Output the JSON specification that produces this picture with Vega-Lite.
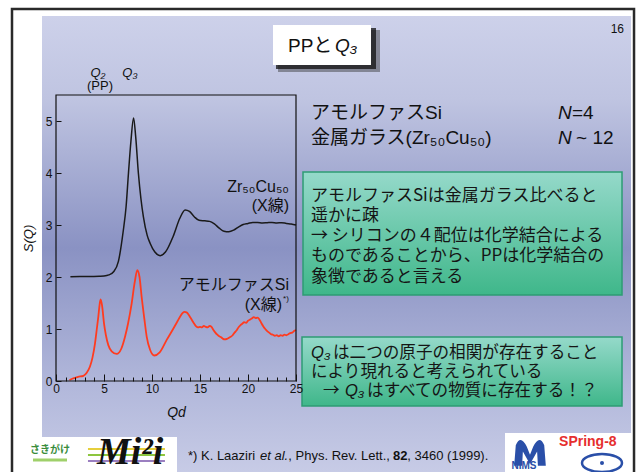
{
  "$schema": "https://vega.github.io/schema/vega-lite/v6.json",
  "width": 240,
  "height": 286,
  "autosize": {"type": "none"},
  "padding": {"left": 56, "top": 95, "right": 344, "bottom": 91},
  "background": "white",
  "config": {"view": {"stroke": null}},
  "encoding": {
    "x": {"field": "x", "type": "quantitative",
      "scale": {"domain": [0, 25], "nice": false, "zero": false},
      "axis": {"title": "Qd", "titleFont": "Liberation Sans", "titleFontStyle": "italic", "titleFontWeight": "normal", "titleFontSize": 14, "titleColor": "#111", "titlePadding": 8,
        "values": [0,1,2,3,4,5,6,7,8,9,10,11,12,13,14,15,16,17,18,19,20,21,22,23,24,25],
        "labelExpr": "datum.value % 5 === 0 ? datum.label : ''",
        "labelFont": "Liberation Sans", "labelFontSize": 12, "labelColor": "#111", "labelFlush": false, "labelOverlap": false,
        "tickSize": {"condition": {"test": "datum.value % 5 === 0", "value": -7}, "value": -4},
        "labelPadding": 9, "tickColor": "#111", "tickWidth": 1, "domain": false, "grid": false, "zindex": 1}},
    "y": {"field": "y", "type": "quantitative",
      "scale": {"domain": [0, 5.5], "nice": false, "zero": false},
      "axis": {"title": "S(Q)", "titleFont": "Liberation Sans", "titleFontStyle": "italic", "titleFontWeight": "normal", "titleFontSize": 13, "titleColor": "#111", "titlePadding": 10,
        "values": [0,1,2,3,4,5], "labelFont": "Liberation Sans", "labelFontSize": 12, "labelColor": "#111",
        "tickSize": -5, "labelPadding": 9, "tickColor": "#111", "domain": false, "grid": false, "zindex": 1}}
  },
  "layer": [
    {"data": {"values": [{"x": -1.458, "x2": 59.9, "y": 7.019, "y2": -1.904}]},
     "mark": {"type": "rect", "fill": {"gradient": "linear", "x1": 0, "y1": 0, "x2": 0, "y2": 1,
       "stops": [{"offset": 0, "color": "#cdd1ea"}, {"offset": 0.18, "color": "#bfc4e1"}, {"offset": 0.5, "color": "#8a92c3"}, {"offset": 0.8, "color": "#b2b8db"}, {"offset": 1, "color": "#c9cde7"}]}},
     "encoding": {"x2": {"field": "x2"}, "y2": {"field": "y2"}}},
    {"data": {"values": [{"x": -4.583, "x2": 12.604, "y": -1.077, "y2": -1.904}, {"x": 46.77, "x2": 60.0, "y": -1.0, "y2": -1.904}]},
     "mark": {"type": "rect", "fill": "white"},
     "encoding": {"x2": {"field": "x2"}, "y2": {"field": "y2"}}},
    {"data": {"values": [{"x": -4.583, "x2": 60.21, "y": 7.154, "y2": -1.904}]},
     "mark": {"type": "rect", "fill": "transparent", "stroke": "#2a2a2a", "strokeWidth": 2.5},
     "encoding": {"x2": {"field": "x2"}, "y2": {"field": "y2"}}},
    {"data": {"values": [{"x": 23.125, "x2": 33.75, "y": 6.75, "y2": 5.942}]},
     "mark": {"type": "rect", "fill": "#333", "opacity": 0.45},
     "encoding": {"x2": {"field": "x2"}, "y2": {"field": "y2"}}},
    {"data": {"values": [{"x": 22.917, "x2": 33.333, "y": 6.788, "y2": 6.0}]},
     "mark": {"type": "rect", "fill": "#111", "opacity": 0.75},
     "encoding": {"x2": {"field": "x2"}, "y2": {"field": "y2"}}},
    {"data": {"values": [{"x": 22.604, "x2": 32.813, "y": 6.846, "y2": 6.077}]},
     "mark": {"type": "rect", "fill": "white"},
     "encoding": {"x2": {"field": "x2"}, "y2": {"field": "y2"}}},
    {"data": {"values": [{"x": 25.73, "x2": 58.96, "y": 4.019, "y2": 1.654}, {"x": 25.625, "x2": 58.96, "y": 0.846, "y2": -0.481}]},
     "mark": {"type": "rect", "stroke": "#2e9c74", "strokeWidth": 1.5, "fill": {"gradient": "linear", "x1": 0, "y1": 0, "x2": 0, "y2": 1,
       "stops": [{"offset": 0, "color": "#95d9ca"}, {"offset": 1, "color": "#3fb78a"}]}},
     "encoding": {"x2": {"field": "x2"}, "y2": {"field": "y2"}}},
    {"data": {"values": [{"x": 3.33, "x2": 11.35, "y": -1.308}]},
     "mark": {"type": "rule", "color": "#e6cf3c", "strokeWidth": 2},
     "encoding": {"x2": {"field": "x2"}}},
    {"data": {"values": [{"x": 3.33, "x2": 11.35, "y": -1.423}]},
     "mark": {"type": "rule", "color": "#8dc63f", "strokeWidth": 2},
     "encoding": {"x2": {"field": "x2"}}},
    {"data": {"values": [{"x": 3.33, "x2": 11.35, "y": -1.538}]},
     "mark": {"type": "rule", "color": "#9b7fc0", "strokeWidth": 2},
     "encoding": {"x2": {"field": "x2"}}},
    {"data": {"values": [{"x": -2.396, "x2": 1.146, "y": -1.519}]},
     "mark": {"type": "rule", "color": "#9fd06a", "strokeWidth": 3},
     "encoding": {"x2": {"field": "x2"}}},
    {"data": {"values": [{"x": 4.9}, {"x": 8.0}]},
     "mark": {"type": "rule", "color": "#333", "strokeWidth": 2, "strokeDash": [2, 1.5]},
     "encoding": {"y": {"datum": 0}, "y2": {"datum": 5.5}}},
    {"data": {"values": [
      {"x": 1.5, "y": 2.005}, {"x": 2.5, "y": 2.01}, {"x": 3.5, "y": 2.01}, {"x": 4.5, "y": 2.015}, {"x": 5.0, "y": 2.02},
      {"x": 5.5, "y": 2.04}, {"x": 6.0, "y": 2.1}, {"x": 6.5, "y": 2.3}, {"x": 7.0, "y": 2.88}, {"x": 7.3, "y": 3.35},
      {"x": 7.55, "y": 4.0}, {"x": 7.8, "y": 4.6}, {"x": 8.08, "y": 5.06}, {"x": 8.3, "y": 4.7}, {"x": 8.58, "y": 4.0},
      {"x": 8.85, "y": 3.5}, {"x": 9.1, "y": 3.16}, {"x": 9.5, "y": 2.8}, {"x": 9.8, "y": 2.65}, {"x": 10.3, "y": 2.48},
      {"x": 10.85, "y": 2.41}, {"x": 11.4, "y": 2.48}, {"x": 12.2, "y": 2.78}, {"x": 12.9, "y": 3.13}, {"x": 13.45, "y": 3.29},
      {"x": 13.9, "y": 3.26}, {"x": 14.4, "y": 3.16}, {"x": 14.9, "y": 3.09}, {"x": 15.5, "y": 3.08}, {"x": 16.0, "y": 3.07},
      {"x": 16.5, "y": 3.02}, {"x": 17.0, "y": 2.94}, {"x": 17.5, "y": 2.88}, {"x": 18.0, "y": 2.87}, {"x": 18.5, "y": 2.9},
      {"x": 19.0, "y": 2.96}, {"x": 19.5, "y": 3.01}, {"x": 20.0, "y": 3.03}, {"x": 20.5, "y": 3.05}, {"x": 21.0, "y": 3.05},
      {"x": 21.5, "y": 3.04}, {"x": 22.0, "y": 3.045}, {"x": 22.5, "y": 3.05}, {"x": 23.0, "y": 3.04}, {"x": 23.5, "y": 3.045},
      {"x": 24.0, "y": 3.03}, {"x": 24.5, "y": 3.02}, {"x": 25.0, "y": 3.0}]},
     "mark": {"type": "line", "color": "#1a1a1a", "strokeWidth": 1.5, "interpolate": "monotone"}},
    {"data": {"values": [
      {"x": 1.4, "y": 0.02}, {"x": 1.8, "y": 0.05}, {"x": 2.3, "y": 0.08}, {"x": 2.85, "y": 0.1}, {"x": 3.2, "y": 0.16},
      {"x": 3.54, "y": 0.28}, {"x": 3.8, "y": 0.45}, {"x": 4.06, "y": 0.72}, {"x": 4.25, "y": 1.0}, {"x": 4.41, "y": 1.24},
      {"x": 4.55, "y": 1.48}, {"x": 4.65, "y": 1.57}, {"x": 4.8, "y": 1.45}, {"x": 5.0, "y": 1.11}, {"x": 5.2, "y": 0.88},
      {"x": 5.45, "y": 0.69}, {"x": 5.8, "y": 0.57}, {"x": 6.32, "y": 0.52}, {"x": 6.8, "y": 0.62}, {"x": 7.19, "y": 0.85},
      {"x": 7.5, "y": 1.1}, {"x": 7.88, "y": 1.49}, {"x": 8.2, "y": 1.9}, {"x": 8.47, "y": 2.13}, {"x": 8.7, "y": 2.0},
      {"x": 8.92, "y": 1.62}, {"x": 9.2, "y": 1.2}, {"x": 9.45, "y": 0.85}, {"x": 9.8, "y": 0.6}, {"x": 10.24, "y": 0.49},
      {"x": 10.8, "y": 0.55}, {"x": 11.53, "y": 0.79}, {"x": 12.2, "y": 1.0}, {"x": 12.6, "y": 1.13}, {"x": 13.0, "y": 1.26},
      {"x": 13.2, "y": 1.31}, {"x": 13.4, "y": 1.33}, {"x": 13.6, "y": 1.32}, {"x": 13.8, "y": 1.28}, {"x": 14.0, "y": 1.22},
      {"x": 14.2, "y": 1.16}, {"x": 14.4, "y": 1.1}, {"x": 14.6, "y": 1.05}, {"x": 14.8, "y": 1.03}, {"x": 15.0, "y": 1.04},
      {"x": 15.2, "y": 1.03}, {"x": 15.4, "y": 1.06}, {"x": 15.6, "y": 1.04}, {"x": 15.8, "y": 1.03}, {"x": 16.0, "y": 1.06},
      {"x": 16.2, "y": 1.04}, {"x": 16.4, "y": 0.98}, {"x": 16.6, "y": 0.93}, {"x": 16.8, "y": 0.89}, {"x": 17.0, "y": 0.86},
      {"x": 17.2, "y": 0.84}, {"x": 17.4, "y": 0.81}, {"x": 17.6, "y": 0.8}, {"x": 17.8, "y": 0.81}, {"x": 18.0, "y": 0.83},
      {"x": 18.2, "y": 0.85}, {"x": 18.4, "y": 0.88}, {"x": 18.6, "y": 0.93}, {"x": 18.8, "y": 0.97}, {"x": 19.0, "y": 1.03},
      {"x": 19.2, "y": 1.07}, {"x": 19.4, "y": 1.1}, {"x": 19.6, "y": 1.13}, {"x": 19.8, "y": 1.12}, {"x": 20.0, "y": 1.16},
      {"x": 20.2, "y": 1.18}, {"x": 20.4, "y": 1.2}, {"x": 20.6, "y": 1.23}, {"x": 20.8, "y": 1.21}, {"x": 21.0, "y": 1.22},
      {"x": 21.2, "y": 1.18}, {"x": 21.4, "y": 1.11}, {"x": 21.6, "y": 1.05}, {"x": 21.8, "y": 1.0}, {"x": 22.0, "y": 0.96},
      {"x": 22.2, "y": 0.93}, {"x": 22.4, "y": 0.9}, {"x": 22.6, "y": 0.89}, {"x": 22.8, "y": 0.87}, {"x": 23.0, "y": 0.88},
      {"x": 23.2, "y": 0.86}, {"x": 23.4, "y": 0.88}, {"x": 23.6, "y": 0.87}, {"x": 23.8, "y": 0.89}, {"x": 24.0, "y": 0.88},
      {"x": 24.2, "y": 0.9}, {"x": 24.4, "y": 0.92}, {"x": 24.6, "y": 0.93}, {"x": 24.8, "y": 0.96}, {"x": 25.0, "y": 0.98}]},
     "mark": {"type": "line", "color": "#ff3b1f", "strokeWidth": 1.8, "interpolate": "monotone"}},
    {"data": {"values": [{"x": 0, "x2": 25, "y": 0, "y2": 5.5}]},
     "mark": {"type": "rect", "fill": "transparent", "stroke": "#111", "strokeWidth": 1.2},
     "encoding": {"x2": {"field": "x2"}, "y2": {"field": "y2"}}},
    {"data": {"values": [
      {"x": 26.56, "y": 5.154, "text": "アモルファスSi"},
      {"x": 26.56, "y": 4.673, "text": "金属ガラス(Zr₅₀Cu₅₀)"},
      {"x": 53.75, "y": 5.154, "text": "=4"},
      {"x": 54.17, "y": 4.673, "text": "~ 12"},
      {"x": 24.167, "y": 6.442, "text": "PPと"}]},
     "mark": {"type": "text", "align": "left", "baseline": "middle", "fontSize": 19, "font": "Liberation Sans, Noto Sans CJK JP, DejaVu Sans", "color": "#111"},
     "encoding": {"text": {"field": "text"}}},
    {"data": {"values": [
      {"x": 52.29, "y": 5.154, "text": "N"},
      {"x": 52.29, "y": 4.673, "text": "N"},
      {"x": 29.06, "y": 6.442, "text": "Q₃"}]},
     "mark": {"type": "text", "align": "left", "baseline": "middle", "fontSize": 19, "fontStyle": "italic", "font": "Liberation Sans, DejaVu Sans", "color": "#111"},
     "encoding": {"text": {"field": "text"}}},
    {"data": {"values": [
      {"x": 26.56, "y": 3.558, "text": "アモルファスSiは金属ガラス比べると"},
      {"x": 26.56, "y": 3.173, "text": "遥かに疎"},
      {"x": 26.56, "y": 2.788, "text": "→ シリコンの４配位は化学結合による"},
      {"x": 26.56, "y": 2.404, "text": "ものであることから、PPは化学結合の"},
      {"x": 26.56, "y": 2.0, "text": "象徴であると言える"}]},
     "mark": {"type": "text", "align": "left", "baseline": "middle", "fontSize": 17, "font": "Noto Sans CJK JP, DejaVu Sans", "color": "#151515"},
     "encoding": {"text": {"field": "text"}}},
    {"data": {"values": [
      {"x": 28.85, "y": 0.533, "text": "は二つの原子の相関が存在すること"},
      {"x": 26.56, "y": 0.167, "text": "により現れると考えられている"},
      {"x": 27.81, "y": -0.192, "text": "→"},
      {"x": 32.4, "y": -0.192, "text": "はすべての物質に存在する！？"}]},
     "mark": {"type": "text", "align": "left", "baseline": "middle", "fontSize": 16.6, "font": "Noto Sans CJK JP, DejaVu Sans", "color": "#151515"},
     "encoding": {"text": {"field": "text"}}},
    {"data": {"values": [
      {"x": 26.56, "y": 0.533, "text": "Q₃"},
      {"x": 30.1, "y": -0.192, "text": "Q₃"}]},
     "mark": {"type": "text", "align": "left", "baseline": "middle", "fontSize": 16.6, "fontStyle": "italic", "font": "Liberation Sans, DejaVu Sans", "color": "#151515"},
     "encoding": {"text": {"field": "text"}}},
    {"data": {"values": [
      {"x": 24.27, "y": 3.731, "text": "Zr₅₀Cu₅₀"},
      {"x": 24.27, "y": 3.365, "text": "(X線)"},
      {"x": 24.27, "y": 1.846, "text": "アモルファスSi"},
      {"x": 23.54, "y": 1.462, "text": "(X線)"}]},
     "mark": {"type": "text", "align": "right", "baseline": "middle", "fontSize": 16, "font": "Liberation Sans, Noto Sans CJK JP, DejaVu Sans", "color": "#111"},
     "encoding": {"text": {"field": "text"}}},
    {"data": {"values": [{"x": 23.65, "y": 1.577, "text": "*)"}]},
     "mark": {"type": "text", "align": "left", "baseline": "middle", "fontSize": 8, "font": "Liberation Sans", "color": "#111"},
     "encoding": {"text": {"field": "text"}}},
    {"data": {"values": [
      {"x": 4.375, "y": 5.923, "text": "Q₂"},
      {"x": 7.708, "y": 5.923, "text": "Q₃"}]},
     "mark": {"type": "text", "align": "center", "baseline": "middle", "fontSize": 13, "fontStyle": "italic", "font": "Liberation Sans, DejaVu Sans", "color": "#111"},
     "encoding": {"text": {"field": "text"}}},
    {"data": {"values": [{"x": 4.583, "y": 5.673, "text": "(PP)"}]},
     "mark": {"type": "text", "align": "center", "baseline": "middle", "fontSize": 13, "font": "Liberation Sans", "color": "#111"},
     "encoding": {"text": {"field": "text"}}},
    {"data": {"values": [{"x": 59.17, "y": 6.769, "text": "16"}]},
     "mark": {"type": "text", "align": "right", "baseline": "middle", "fontSize": 12, "font": "Liberation Sans", "color": "#111"},
     "encoding": {"text": {"field": "text"}}},
    {"data": {"values": [
      {"x": 13.75, "y": -1.442, "text": "*) K. Laaziri"},
      {"x": 24.2, "y": -1.442, "text": ", Phys. Rev. Lett.,"},
      {"x": 36.6, "y": -1.442, "text": ", 3460 (1999)."}]},
     "mark": {"type": "text", "align": "left", "baseline": "middle", "fontSize": 13, "font": "Liberation Sans", "color": "#111"},
     "encoding": {"text": {"field": "text"}}},
    {"data": {"values": [{"x": 21.25, "y": -1.442, "text": "et al."}]},
     "mark": {"type": "text", "align": "left", "baseline": "middle", "fontSize": 13, "fontStyle": "italic", "font": "Liberation Sans", "color": "#111"},
     "encoding": {"text": {"field": "text"}}},
    {"data": {"values": [{"x": 35.1, "y": -1.442, "text": "82"}]},
     "mark": {"type": "text", "align": "left", "baseline": "middle", "fontSize": 13, "fontWeight": "bold", "font": "Liberation Sans", "color": "#111"},
     "encoding": {"text": {"field": "text"}}},
    {"data": {"values": [{"x": -0.625, "y": -1.327, "text": "さきがけ"}]},
     "mark": {"type": "text", "align": "center", "baseline": "middle", "fontSize": 10, "fontWeight": "bold", "font": "Noto Sans CJK JP", "color": "#3a8d3c"},
     "encoding": {"text": {"field": "text"}}},
    {"data": {"values": [{"x": 4.27, "y": -1.385, "text": "Mi²i"}]},
     "mark": {"type": "text", "align": "left", "baseline": "middle", "fontSize": 38, "fontStyle": "italic", "fontWeight": "bold", "font": "Liberation Serif", "color": "#111"},
     "encoding": {"text": {"field": "text"}}},
    {"data": {"values": [{"x": 49.375, "y": -1.327}]},
     "mark": {"type": "point", "filled": true, "color": "#2a4fa8", "opacity": 1, "size": 1000,
       "shape": "M -1 1 L -0.9 -0.3 Q -0.6 -1 -0.2 -0.2 L 0 0.3 L 0.2 -0.2 Q 0.6 -1 0.9 -0.3 L 1 1 L 0.5 1 L 0.45 0.1 L 0 0.9 L -0.45 0.1 L -0.5 1 Z"}},
    {"data": {"values": [{"x": 48.75, "y": -1.635, "text": "NIMS"}]},
     "mark": {"type": "text", "align": "center", "baseline": "middle", "fontSize": 10, "fontWeight": "bold", "font": "Liberation Sans", "color": "#2a4fa8"},
     "encoding": {"text": {"field": "text"}}},
    {"data": {"values": [{"x": 52.4, "y": -1.173, "text": "SPring-8"}]},
     "mark": {"type": "text", "align": "left", "baseline": "middle", "fontSize": 14, "fontWeight": "bold", "font": "Liberation Sans", "color": "#e62e2e"},
     "encoding": {"text": {"field": "text"}}},
    {"data": {"values": [{"x": 56.875, "y": -1.577}]},
     "mark": {"type": "point", "filled": false, "color": "#2a4fa8", "strokeWidth": 2.5, "opacity": 1, "size": 1600,
       "shape": "M -1 0 A 1 0.45 0 1 1 1 0 A 1 0.45 0 1 1 -1 0 Z"}},
    {"data": {"values": [{"x": 56.875, "y": -1.577}]},
     "mark": {"type": "point", "filled": true, "color": "#2a4fa8", "opacity": 1, "size": 16, "shape": "circle"}}
  ]
}
